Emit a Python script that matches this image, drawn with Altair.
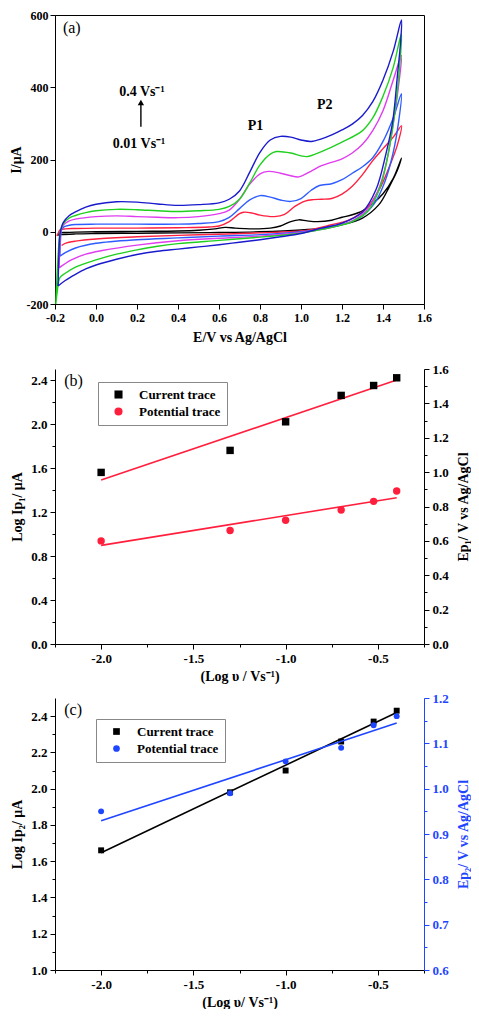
import altair as alt
import pandas as pd

FONT = "Liberation Serif"

# ---------------- panel (a): cyclic voltammograms (E in V, I in uA) ----------------
SCAN_RATES = ["0.01", "0.05", "0.1", "0.2", "0.3", "0.4"]
CV_COLORS = ["#000000", "#ff2040", "#2f5cff", "#e03cf0", "#1fd01f", "#1a1acd"]

CV_001 = [(-0.19, -10), (-0.175, -3), (-0.15, -2), (-0.1, -1), (0.0, 0), (0.2, 1), (0.4, 2), (0.5, 4),
          (0.58, 8), (0.63, 12), (0.68, 10), (0.75, 8), (0.85, 10), (0.9, 16), (0.95, 28), (0.99, 33),
          (1.03, 30), (1.08, 28), (1.15, 32), (1.2, 40), (1.25, 47), (1.3, 58), (1.35, 78), (1.4, 105),
          (1.45, 148), (1.49, 204),
          (1.47, 170), (1.431, 125), (1.38, 75), (1.3, 38), (1.2, 20), (1.1, 10), (1.0, 5), (0.8, 0),
          (0.6, -2), (0.4, -3), (0.2, -4), (0.0, -5), (-0.1, -6), (-0.17, -8), (-0.19, -10)]

CV_005 = [(-0.19, -12), (-0.183, -2), (-0.175, 5), (-0.15, 8), (-0.1, 9), (0.0, 10), (0.2, 10), (0.4, 11),
          (0.55, 13), (0.6, 16), (0.65, 28), (0.7, 50), (0.72, 54), (0.76, 52), (0.8, 46), (0.87, 42),
          (0.92, 48), (0.97, 70), (1.02, 85), (1.06, 89), (1.1, 90), (1.15, 92), (1.2, 104), (1.25, 126),
          (1.3, 158), (1.35, 197), (1.4, 230), (1.45, 262), (1.49, 293),
          (1.471, 242), (1.431, 180), (1.382, 117), (1.317, 64), (1.235, 33), (1.138, 18), (1.05, 6),
          (1.0, 2), (0.8, -3), (0.6, -7), (0.4, -10), (0.2, -14), (0.0, -20), (-0.1, -26), (-0.15, -32),
          (-0.168, -38)]

CV_01 = [(-0.176, -68), (-0.173, -20), (-0.168, 5), (-0.155, 14), (-0.13, 18), (-0.1, 20), (0.0, 21),
         (0.2, 21), (0.4, 21), (0.5, 23), (0.6, 28), (0.65, 40), (0.7, 64), (0.75, 88), (0.8, 100),
         (0.85, 96), (0.9, 88), (0.95, 84), (1.0, 92), (1.05, 115), (1.09, 128), (1.15, 133), (1.2, 144),
         (1.25, 162), (1.3, 180), (1.35, 205), (1.4, 250), (1.45, 315), (1.49, 382),
         (1.475, 300), (1.45, 220), (1.41, 140), (1.36, 80), (1.29, 40), (1.2, 20), (1.1, 8), (1.0, 0),
         (0.8, -8), (0.6, -12), (0.4, -17), (0.2, -22), (0.0, -32), (-0.1, -45), (-0.15, -58),
         (-0.176, -68)]

CV_02 = [(-0.18, -100), (-0.177, -40), (-0.172, 0), (-0.16, 18), (-0.13, 30), (-0.1, 35), (0.0, 42),
         (0.1, 44), (0.2, 42), (0.3, 40), (0.4, 39), (0.5, 42), (0.6, 50), (0.65, 60), (0.7, 90),
         (0.75, 132), (0.8, 160), (0.84, 167), (0.9, 162), (0.95, 155), (0.99, 152), (1.05, 168),
         (1.1, 183), (1.2, 202), (1.25, 218), (1.3, 242), (1.35, 280), (1.4, 335), (1.45, 420), (1.49, 488),
         (1.475, 400), (1.45, 300), (1.42, 200), (1.38, 120), (1.32, 60), (1.25, 30), (1.15, 12), (1.05, 2),
         (1.0, -2), (0.8, -12), (0.6, -18), (0.4, -25), (0.2, -37), (0.03, -52), (-0.05, -62),
         (-0.12, -78), (-0.18, -100)]

CV_03 = [(-0.196, -200), (-0.19, -120), (-0.182, -40), (-0.175, 0), (-0.16, 22), (-0.13, 38), (-0.1, 45),
         (-0.05, 53), (0.0, 58), (0.1, 62), (0.2, 61), (0.3, 58), (0.4, 56), (0.5, 58), (0.6, 62),
         (0.65, 70), (0.7, 90), (0.75, 135), (0.8, 185), (0.85, 215), (0.88, 222), (0.95, 218), (1.0, 210),
         (1.03, 208), (1.1, 222), (1.2, 248), (1.3, 280), (1.35, 315), (1.4, 375), (1.45, 455), (1.49, 548),
         (1.48, 450), (1.46, 340), (1.43, 230), (1.39, 130), (1.33, 60), (1.25, 28), (1.15, 12), (1.05, 1),
         (1.0, -4), (0.9, -10), (0.8, -15), (0.6, -24), (0.4, -33), (0.3, -40), (0.2, -50), (0.1, -62),
         (0.0, -78), (-0.1, -98), (-0.15, -115), (-0.176, -127), (-0.19, -170), (-0.196, -200)]

CV_04 = [(-0.185, -150), (-0.182, -80), (-0.178, -20), (-0.172, 5), (-0.16, 25), (-0.13, 45), (-0.1, 55),
         (-0.05, 68), (0.0, 76), (0.1, 83), (0.2, 82), (0.3, 77), (0.4, 73), (0.5, 75), (0.6, 80),
         (0.65, 90), (0.7, 113), (0.75, 165), (0.8, 220), (0.85, 254), (0.9, 264), (0.95, 262), (1.0, 254),
         (1.05, 250), (1.1, 257), (1.15, 268), (1.2, 282), (1.25, 298), (1.3, 322), (1.35, 360), (1.4, 420),
         (1.45, 500), (1.49, 586),
         (1.485, 520), (1.471, 437), (1.447, 304), (1.414, 215), (1.366, 117), (1.30, 55), (1.2, 24),
         (1.1, 10), (1.0, -5), (0.9, -14), (0.8, -22), (0.7, -29), (0.6, -36), (0.5, -42), (0.4, -48),
         (0.3, -54), (0.2, -63), (0.1, -76), (0.0, -92), (-0.05, -103), (-0.1, -118), (-0.15, -135),
         (-0.185, -150)]

CV_CURVES = [CV_001, CV_005, CV_01, CV_02, CV_03, CV_04]

ANNOT_BOLD_TEXT = ["P1", "P2", "0.4 Vs⁻¹", "0.01 Vs⁻¹"]
ANNOT_BOLD_E = [0.778, 1.116, 0.224, 0.21]
ANNOT_BOLD_I = [293, 352, 388, 244]
PANEL_A_LABEL = "(a)"
ARROW_E = 0.219
ARROW_I = [291, 352, 358]

# ---------------- panels (b) and (c) ----------------
LOG_V = [-2.0, -1.301, -1.0, -0.699, -0.523, -0.398]
FIT_X = [-2.0, -0.398]
SERIES = ["Current trace", "Potential trace"]

B_CURRENT = [1.56, 1.76, 2.02, 2.26, 2.35, 2.42]
B_POTENTIAL = [0.60, 0.66, 0.72, 0.78, 0.83, 0.89]
B_CURRENT_FIT = [1.49, 2.40]
B_POTENTIAL_FIT = [0.574, 0.851]

C_CURRENT = [1.66, 1.98, 2.10, 2.26, 2.37, 2.43]
C_POTENTIAL = [0.95, 0.99, 1.06, 1.09, 1.14, 1.16]
C_CURRENT_FIT = [1.647, 2.42]
C_POTENTIAL_FIT = [0.929, 1.145]

RED = "#ff1f3d"
BLUE = "#1e46ff"

LBL = dict(labelFont=FONT, labelFontWeight="bold", titleFont=FONT, titleFontWeight="bold")

# ---------------- build panel (a) ----------------
rows = []
for rate, curve in zip(SCAN_RATES, CV_CURVES):
    for k, (e, i) in enumerate(curve):
        rows.append({"rate": rate, "idx": k, "E": e, "I": i})
cv_df = pd.DataFrame(rows)

xa_vals = [round(-0.2 + 0.1 * k, 1) for k in range(19)]
ya_vals = list(range(-200, 601, 100))

x_a = alt.X("E:Q", scale=alt.Scale(domain=[-0.2, 1.6], nice=False, zero=False),
            axis=alt.Axis(values=xa_vals, title="E/V vs Ag/AgCl", titleFontSize=14, labelFontSize=12,
                          labelExpr="abs(round(datum.value*10)) % 2 == 0 ? replace(format(datum.value, '.1f'), '−', '-') : ''",
                          tickSize={"condition": {"test": "abs(round(datum.value*10)) % 2 == 0", "value": 5}, "value": 3},
                          titlePadding=7, labelPadding=3, labelFlush=False, **LBL))
y_a = alt.Y("I:Q", scale=alt.Scale(domain=[-200, 600], nice=False, zero=False),
            axis=alt.Axis(values=ya_vals, title="I/μA", titleFontSize=14, labelFontSize=12,
                          labelExpr="datum.value % 200 == 0 ? replace(format(datum.value, 'd'), '−', '-') : ''",
                          tickSize={"condition": {"test": "datum.value % 200 == 0", "value": 5}, "value": 3},
                          titlePadding=3, labelPadding=2, labelFlush=False, **LBL))

cv_lines = alt.Chart(cv_df).mark_line(strokeWidth=1.4, interpolate="catmull-rom", clip=True).encode(
    x=x_a, y=y_a,
    color=alt.Color("rate:N", scale=alt.Scale(domain=SCAN_RATES, range=CV_COLORS), legend=None),
    order="idx:Q",
)

bold_df = pd.DataFrame({"E": ANNOT_BOLD_E, "I": ANNOT_BOLD_I, "t": ANNOT_BOLD_TEXT})
bold_txt = alt.Chart(bold_df).mark_text(font=FONT, fontWeight="bold", fontSize=14, color="black").encode(
    x="E:Q", y="I:Q", text="t:N")
alabel = alt.Chart(pd.DataFrame({"E": [-0.118], "I": [564], "t": [PANEL_A_LABEL]})).mark_text(
    font=FONT, fontSize=16, color="black").encode(x="E:Q", y="I:Q", text="t:N")
arrow_shaft = alt.Chart(pd.DataFrame({"E": [ARROW_E], "I": [ARROW_I[0]], "I2": [ARROW_I[1]]})).mark_rule(
    strokeWidth=1.4, color="black").encode(x="E:Q", y="I:Q", y2="I2:Q")
arrow_head = alt.Chart(pd.DataFrame({"E": [ARROW_E], "I": [ARROW_I[2]]})).mark_point(
    shape="triangle-up", filled=True, size=40, color="black", opacity=1).encode(x="E:Q", y="I:Q")

chart_a = alt.layer(cv_lines, arrow_shaft, arrow_head, bold_txt, alabel).properties(
    width=369, height=289, view=alt.ViewBackground(stroke="black", strokeWidth=1))


# ---------------- helpers for (b) and (c) ----------------
def x_axis(title):
    vals = [round(-2.25 + 0.25 * k, 2) for k in range(9)]
    return alt.X("x:Q", scale=alt.Scale(domain=[-2.25, -0.25], nice=False, zero=False),
                 axis=alt.Axis(values=vals, title=title, titleFontSize=14, labelFontSize=13,
                               labelExpr="abs(round(datum.value*4)) % 2 == 0 ? replace(format(datum.value, '.1f'), '−', '-') : ''",
                               tickSize={"condition": {"test": "abs(round(datum.value*4)) % 2 == 0", "value": 5}, "value": 3},
                               titlePadding=4, labelPadding=3, labelFlush=False, **LBL))


def y_axis(domain, vals, mult, title, orient, color="black"):
    test = f"abs(round(datum.value*{mult})) % 2 == 0"
    kw = dict(values=vals, title=title, titleFontSize=14, labelFontSize=13, orient=orient,
              labelExpr=f"{test} ? format(datum.value, '.1f') : ''",
              tickSize={"condition": {"test": test, "value": 5}, "value": 3},
              labelPadding=3, labelFlush=False, domainColor=color, tickColor=color,
              labelColor=color, titleColor=color, **LBL)
    if orient == "right":
        kw.update(titleAngle=270, titleBaseline="top", titlePadding=8)
    else:
        kw.update(titlePadding=6)
    return alt.Y("y:Q", scale=alt.Scale(domain=domain, nice=False, zero=False), axis=alt.Axis(**kw))


def panel(cur, pot, cur_fit, pot_fit, cur_line_color, pot_color, left_dom, left_vals, left_mult,
          right_dom, right_vals, right_mult, left_title, right_title, right_color, xtitle, letter,
          pt_size, legend_x, legend_y):
    legend = alt.Legend(orient="none", legendX=legend_x, legendY=legend_y, title=None, strokeColor="#888888",
                        fillColor="white", padding=6, labelFont=FONT, labelFontSize=13,
                        labelFontWeight="bold", labelColor="black", symbolSize=pt_size + 10,
                        rowPadding=3, symbolOffset=8, labelOffset=14, labelLimit=200)
    color = alt.Color("s:N", scale=alt.Scale(domain=SERIES, range=["black", pot_color]), legend=legend)
    shape = alt.Shape("s:N", scale=alt.Scale(domain=SERIES, range=["square", "circle"]), legend=legend)
    xenc = x_axis(xtitle)
    ly = y_axis(left_dom, left_vals, left_mult, left_title, "left")
    ry = y_axis(right_dom, right_vals, right_mult, right_title, "right", right_color)

    cur_df = pd.DataFrame({"x": LOG_V, "y": cur, "s": SERIES[0]})
    pot_df = pd.DataFrame({"x": LOG_V, "y": pot, "s": SERIES[1]})
    cfit = pd.DataFrame({"x": FIT_X, "y": cur_fit})
    pfit = pd.DataFrame({"x": FIT_X, "y": pot_fit})

    left = alt.layer(
        alt.Chart(cfit).mark_line(color=cur_line_color, strokeWidth=1.6).encode(x=xenc, y=ly),
        alt.Chart(cur_df).mark_point(filled=True, opacity=1, size=pt_size).encode(
            x=xenc, y=ly, color=color, shape=shape),
        alt.Chart(pd.DataFrame({"x": [-2.2], "y": [left_dom[1] - (left_dom[1] - left_dom[0]) * 0.045],
                                "t": [letter]})).mark_text(
            font=FONT, fontSize=16, color="black", align="left").encode(x=xenc, y=ly, text="t:N"),
    )
    right = alt.layer(
        alt.Chart(pfit).mark_line(color=pot_color, strokeWidth=1.6).encode(x=xenc, y=ry),
        alt.Chart(pot_df).mark_point(filled=True, opacity=1, size=pt_size).encode(
            x=xenc, y=ry, color=color, shape=shape),
    )
    return alt.layer(left, right).resolve_scale(y="independent").resolve_axis(y="independent")


chart_b = panel(B_CURRENT, B_POTENTIAL, B_CURRENT_FIT, B_POTENTIAL_FIT, RED, RED,
                [0, 2.5], [round(0.2 * k, 1) for k in range(13)], 5,
                [0, 1.6], [round(0.1 * k, 1) for k in range(17)], 10,
                "Log Ip₁/ μA", "Ep₁/ V vs Ag/AgCl", "black", "(Log υ / Vs⁻¹)", "(b)", 55, 43, 13
                ).properties(width=369, height=275)

chart_c = panel(C_CURRENT, C_POTENTIAL, C_CURRENT_FIT, C_POTENTIAL_FIT, "black", BLUE,
                [1.0, 2.5], [round(1.0 + 0.1 * k, 1) for k in range(15)], 10,
                [0.6, 1.2], [round(0.6 + 0.05 * k, 2) for k in range(13)], 20,
                "Log Ip₂/ μA", "Ep₂/ V vs Ag/AgCl", BLUE, "(Log υ/ Vs⁻¹)", "(c)", 35, 41, 21
                ).properties(width=369, height=272)

lower = alt.vconcat(chart_b, chart_c, spacing=9).resolve_scale(
    x="independent", y="independent", color="independent", shape="independent")
chart = alt.vconcat(chart_a, lower, spacing=18).resolve_scale(
    x="independent", y="independent", color="independent", shape="independent"
).properties(padding=0).configure_axis(
    grid=False, domainColor="black", tickColor="black", labelFont=FONT, titleFont=FONT,
    labelFontWeight="bold", titleFontWeight="bold", labelColor="black", titleColor="black",
    domainWidth=1, tickWidth=1
).configure_view(stroke=None)

chart.save("out.html", embed_options={"renderer": "svg", "actions": False})
